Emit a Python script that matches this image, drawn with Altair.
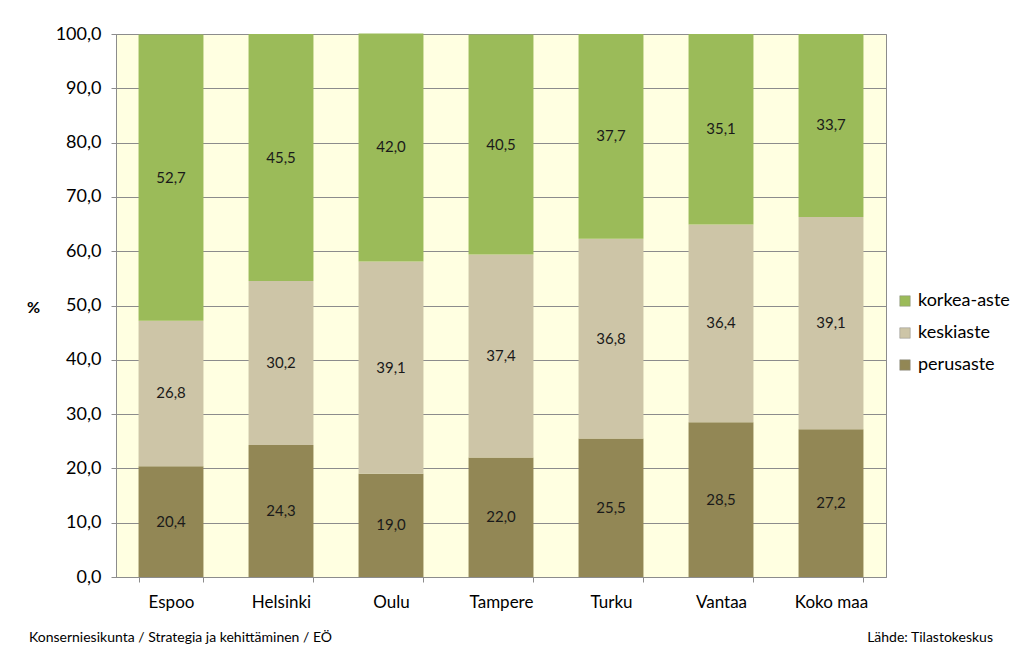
import altair as alt
import pandas as pd

cities = ["Espoo", "Helsinki", "Oulu", "Tampere", "Turku", "Vantaa", "Koko maa"]
perusaste = [20.4, 24.3, 19.0, 22.0, 25.5, 28.5, 27.2]
keskiaste = [26.8, 30.2, 39.1, 37.4, 36.8, 36.4, 39.1]
korkea_aste = [52.7, 45.5, 42.0, 40.5, 37.7, 35.1, 33.7]
series = ["korkea-aste", "keskiaste", "perusaste"]
colors = ["#9BBB59", "#CDC5A7", "#928755"]
stack_order = {"perusaste": 0, "keskiaste": 1, "korkea-aste": 2}

rows = []
for i, c in enumerate(cities):
    for s, vals in (("perusaste", perusaste), ("keskiaste", keskiaste), ("korkea-aste", korkea_aste)):
        v = vals[i]
        rows.append({"city": c, "series": s, "value": v, "ord": stack_order[s],
                     "label": f"{v:.1f}".replace(".", ",")})
df = pd.DataFrame(rows)

FONT = "Lato"

base = alt.Chart(df).transform_stack(
    stack="value", groupby=["city"], as_=["y0", "y1"], sort=[alt.SortField("ord")]
).transform_calculate(mid="(datum.y0 + datum.y1) / 2")

x = alt.X("city:N", sort=cities, title=None,
          scale=alt.Scale(paddingInner=0.41, paddingOuter=0.205),
          axis=alt.Axis(labelAngle=0, labelFontSize=17, labelColor="#000000", labelFont=FONT,
                        tickBand="extent", tickSize=5, tickColor="#8C8C8C",
                        domainColor="#8C8C8C", labelPadding=12, grid=False))

bars = base.mark_bar().encode(
    x=x,
    y=alt.Y("y0:Q", scale=alt.Scale(domain=[0, 100], nice=False),
            axis=alt.Axis(values=list(range(0, 101, 10)), title="%",
                          labelExpr="replace(format(datum.value, '.1f'), '.', ',')",
                          labelFontSize=18, labelFont=FONT, labelColor="#000000",
                          labelPadding=10, tickSize=5, tickColor="#8C8C8C",
                          domainColor="#8C8C8C", gridColor="#8C8C8C", gridWidth=1,
                          titleAngle=0, titleX=-83, titleY=273, titleAlign="center",
                          titleBaseline="middle", titleFontSize=16, titleFont=FONT,
                          titleFontWeight="bold", titleColor="#000000")),
    y2="y1:Q",
    color=alt.Color("series:N", scale=alt.Scale(domain=series, range=colors),
                    legend=alt.Legend(title=None, orient="none", legendX=780, legendY=258,
                                      labelFontSize=18, labelFont=FONT, labelColor="#000000",
                                      symbolType="square", symbolSize=110,
                                      symbolStrokeColor="#8C8C8C", symbolStrokeWidth=0.5,
                                      rowPadding=14, labelOffset=4)),
)

labels = base.mark_text(fontSize=15, font=FONT, color="#1a1a1a").encode(
    x=alt.X("city:N", sort=cities),
    y=alt.Y("mid:Q"),
    text="label:N",
)

footer_df = pd.DataFrame({"t": ["Konserniesikunta  / Strategia  ja kehittäminen  / EÖ"]})
footer_left = alt.Chart(footer_df).mark_text(fontSize=14, font=FONT, align="left",
                                               baseline="middle", color="#000000").encode(
    text="t:N", x=alt.value(-87), y=alt.value(604))
footer_df2 = pd.DataFrame({"t": ["Lähde: Tilastokeskus"]})
footer_right = alt.Chart(footer_df2).mark_text(fontSize=14, font=FONT, align="right",
                                                baseline="middle", color="#000000").encode(
    text="t:N", x=alt.value(877), y=alt.value(604))

chart = alt.layer(bars, labels, footer_left, footer_right).properties(
    width=770, height=543,
    padding={"left": 108, "top": 26, "right": 130, "bottom": 84},
    autosize=alt.AutoSizeParams(type="none"),
    background="#FFFFFF",
).configure_view(fill="#FFFFE1", stroke="#8C8C8C", strokeWidth=1)

chart.save("out.html", embed_options={"renderer": "svg", "actions": False})
